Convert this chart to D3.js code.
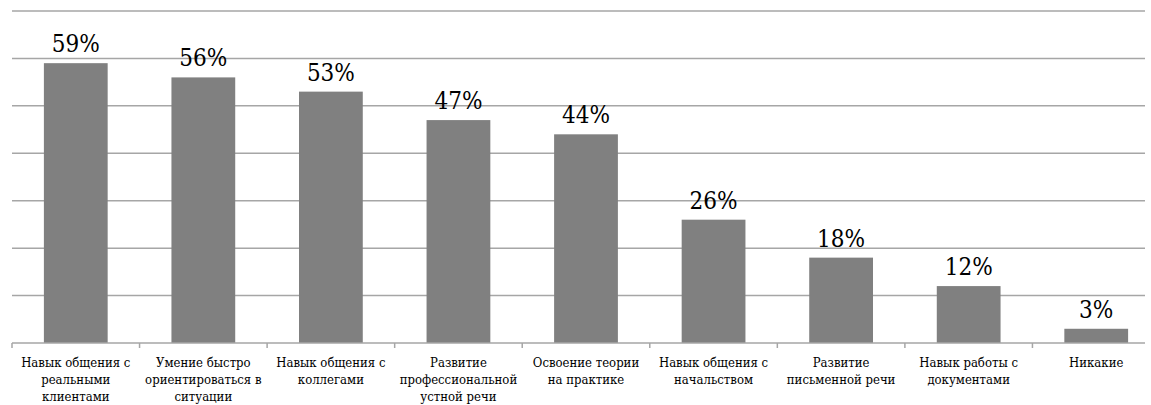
<!DOCTYPE html>
<html>
  <head>
    <meta charset="utf-8">
    <script src="https://d3js.org/d3.v7.min.js"></script>
    <style>
      body { margin: 0; background: #fff; }
      svg text { font-family: "DejaVu Serif Condensed", "DejaVu Serif", serif; }
    </style>
  </head>
  <body>
    <svg width="1151" height="405"></svg>
    <script>
    // categories (each split into the lines shown under the axis)
    var categories = [
      ["Навык общения с", "реальными", "клиентами"],
      ["Умение быстро", "ориентироваться в", "ситуации"],
      ["Навык общения с", "коллегами"],
      ["Развитие", "профессиональной", "устной речи"],
      ["Освоение теории", "на практике"],
      ["Навык общения с", "начальством"],
      ["Развитие", "письменной речи"],
      ["Навык работы с", "документами"],
      ["Никакие"]
    ];
    var values = [59, 56, 53, 47, 44, 26, 18, 12, 3];
    var gridTicks = [0, 10, 20, 30, 40, 50, 60, 70];

    var svg = d3.select("svg");
    var plotLeft = 12, plotRight = 1160, gridRight = 1145;
    var plotTop = 11, plotBottom = 343;

    var x = d3.scaleBand()
        .domain(d3.range(categories.length))
        .range([plotLeft, plotRight])
        .paddingInner(0.5)
        .paddingOuter(0.25);

    var y = d3.scaleLinear()
        .domain([0, 70])
        .range([plotBottom, plotTop]);

    //gridlines
    svg.append("g")
      .selectAll("line")
      .data(gridTicks.slice(1))
      .enter().append("line")
        .attr("x1", plotLeft)
        .attr("x2", gridRight)
        .attr("y1", function(d) { return y(d); })
        .attr("y2", function(d) { return y(d); })
        .attr("stroke", "#a6a6a6")
        .attr("stroke-width", 1.5);

    //bars
    svg.append("g")
      .selectAll("rect")
      .data(values)
      .enter().append("rect")
        .attr("x", function(d, i) { return x(i); })
        .attr("y", function(d) { return y(d); })
        .attr("width", x.bandwidth())
        .attr("height", function(d) { return y(0) - y(d); })
        .attr("fill", "#808080");

    //baseline and category ticks
    svg.append("line")
        .attr("x1", plotLeft)
        .attr("x2", gridRight)
        .attr("y1", y(0))
        .attr("y2", y(0))
        .attr("stroke", "#a6a6a6")
        .attr("stroke-width", 1.5);

    var step = x.step();
    svg.append("g")
      .selectAll("line")
      .data(d3.range(categories.length))
      .enter().append("line")
        .attr("x1", function(i) { return x(i) - step * 0.25; })
        .attr("x2", function(i) { return x(i) - step * 0.25; })
        .attr("y1", y(0))
        .attr("y2", y(0) + 5)
        .attr("stroke", "#a6a6a6")
        .attr("stroke-width", 1.5);

    //value labels
    svg.append("g")
      .selectAll("text")
      .data(values)
      .enter().append("text")
        .attr("x", function(d, i) { return x(i) + x.bandwidth() / 2; })
        .attr("y", function(d) { return y(d) - 11; })
        .attr("text-anchor", "middle")
        .attr("font-size", 24)
        .attr("fill", "#000")
        .text(function(d) { return d + "%"; });

    //category labels
    var labels = svg.append("g")
      .selectAll("text")
      .data(categories)
      .enter().append("text")
        .attr("x", function(d, i) { return x(i) + x.bandwidth() / 2; })
        .attr("y", 367)
        .attr("text-anchor", "middle")
        .attr("font-size", 13)
        .attr("fill", "#000");

    labels.selectAll("tspan")
      .data(function(d) { return d; })
      .enter().append("tspan")
        .attr("x", function() { return d3.select(this.parentNode).attr("x"); })
        .attr("dy", function(d, i) { return i === 0 ? 0 : 17; })
        .text(function(d) { return d; });
    </script>
  </body>
</html>
